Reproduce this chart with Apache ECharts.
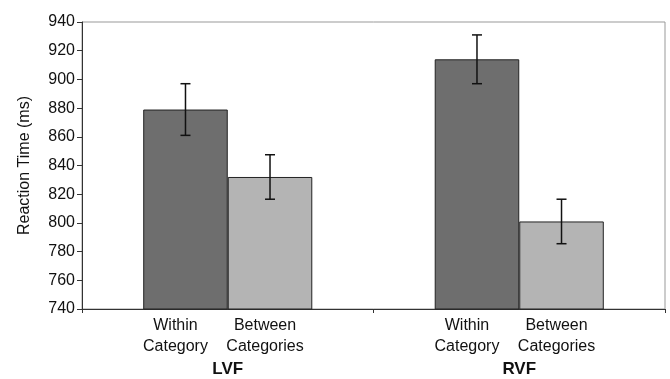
<!DOCTYPE html>
<html>
<head>
<meta charset="utf-8">
<script src="https://cdn.jsdelivr.net/npm/echarts@6/dist/echarts.min.js"></script>
<style>html,body{margin:0;padding:0;background:#fff;}#c{width:670px;height:379px;}</style>
</head>
<body>
<div id="c"></div>
<script>
const groups = ['LVF', 'RVF'];
const seriesNames = ['Within\nCategory', 'Between\nCategories'];
const withinMeans = [879, 914];
const betweenMeans = [832, 801];
const withinErr = [18, 17];
const betweenErr = [15.5, 15.5];
const yTicks = { min: 740, max: 940, step: 20 };

const chart = echarts.init(document.getElementById('c'));
const GAP = 0.42;
function errSeries(means, errs, idx) {
  return {
    type: 'custom',
    z: 10,
    data: groups.map((g, i) => [i, means[i] - errs[i], means[i] + errs[i]]),
    renderItem: function (params, api) {
      const band = api.size([1, 0])[0];
      const bw = band * (1 - GAP) / 2;
      const c = api.coord([api.value(0), api.value(1)]);
      const top = api.coord([api.value(0), api.value(2)]);
      const x = c[0] + (idx === 0 ? -bw / 2 : bw / 2);
      const half = 5;
      const st = { stroke: '#111', lineWidth: 1.5 };
      return {
        type: 'group',
        children: [
          { type: 'line', shape: { x1: x, y1: c[1], x2: x, y2: top[1] }, style: st },
          { type: 'line', shape: { x1: x - half, y1: c[1], x2: x + half, y2: c[1] }, style: st },
          { type: 'line', shape: { x1: x - half, y1: top[1], x2: x + half, y2: top[1] }, style: st }
        ]
      };
    }
  };
}
const labelCommon = {
  show: true, position: 'bottom', distance: 6,
  fontFamily: 'Liberation Sans', fontSize: 16, color: '#111', lineHeight: 21
};
chart.setOption({
  backgroundColor: '#fff',
  animation: false,
  grid: { left: 82, right: 5, top: 22, bottom: 70, show: true, borderColor: '#999', borderWidth: 1 },
  xAxis: {
    type: 'category', data: groups,
    axisLine: { lineStyle: { color: '#333', width: 1 } },
    axisTick: { show: true, length: 4, lineStyle: { color: '#333' } },
    axisLabel: { margin: 52, fontFamily: 'Liberation Sans', fontSize: 17, fontWeight: 'bold', color: '#111' }
  },
  yAxis: {
    type: 'value', min: yTicks.min, max: yTicks.max, interval: yTicks.step,
    name: 'Reaction Time (ms)', nameLocation: 'middle', nameGap: 49, nameRotate: 90,
    nameTextStyle: { fontFamily: 'Liberation Sans', fontSize: 16, color: '#111' },
    axisLine: { show: true, lineStyle: { color: '#333', width: 1 } },
    axisTick: { show: true, length: 5, lineStyle: { color: '#333' } },
    splitLine: { show: false },
    axisLabel: { margin: 7, fontFamily: 'Liberation Sans', fontSize: 16, color: '#111' }
  },
  series: [
    {
      name: seriesNames[0], type: 'bar', data: withinMeans, barGap: '0%', barCategoryGap: (GAP * 100) + '%',
      itemStyle: { color: '#6e6e6e', borderColor: '#222', borderWidth: 1 },
      label: Object.assign({}, labelCommon, { formatter: seriesNames[0], offset: [-10, 0] })
    },
    {
      name: seriesNames[1], type: 'bar', data: betweenMeans, barGap: '0%', barCategoryGap: (GAP * 100) + '%',
      itemStyle: { color: '#b4b4b4', borderColor: '#222', borderWidth: 1 },
      label: Object.assign({}, labelCommon, { formatter: seriesNames[1], offset: [-5, 0] })
    },
    errSeries(withinMeans, withinErr, 0),
    errSeries(betweenMeans, betweenErr, 1)
  ]
});
</script>
</body>
</html>
